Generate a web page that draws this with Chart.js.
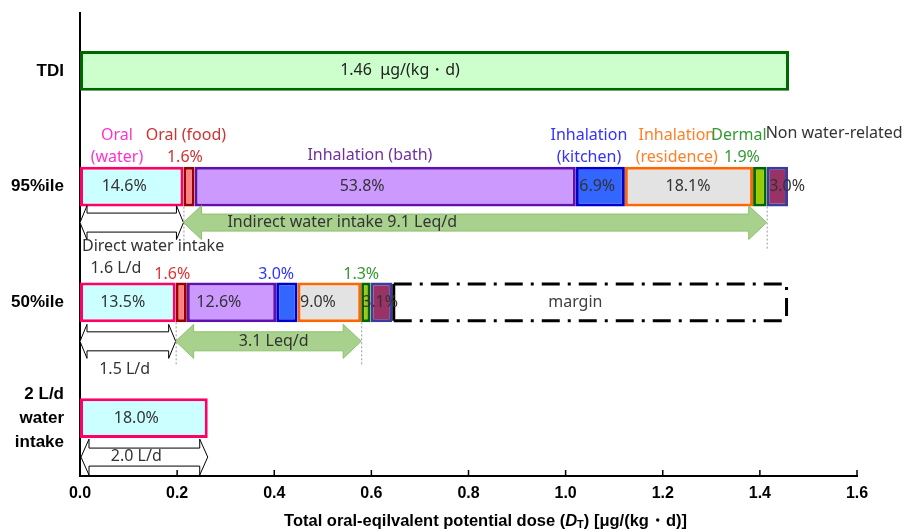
<!DOCTYPE html>
<html>
<head>
<meta charset="utf-8">
<script src="https://cdn.jsdelivr.net/npm/chart.js@4/dist/chart.umd.min.js"></script>
<style>
  html, body { margin: 0; padding: 0; background: #fff; }
  #wrap { width: 903px; height: 531px; }
</style>
</head>
<body>
<div id="wrap"><canvas id="dose-chart" width="903" height="531"></canvas></div>
<script>
// rows, top to bottom
const categories = ['TDI', '95%ile', '50%ile', ['2 L/d', 'water', 'intake']];

// potential dose, ug/(kg d)
const tdiDose      = [1.46, null, null, null];
const oralWater    = [null, 0.213, 0.197, 0.263];
const oralFood     = [null, 0.023, 0.023, null];
const inhBath      = [null, 0.785, 0.184, null];
const inhKitchen   = [null, 0.101, 0.044, null];
const inhResidence = [null, 0.264, 0.131, null];
const dermal       = [null, 0.028, 0.019, null];
const nonWater     = [null, 0.044, 0.045, null];
const marginDose   = [null, null, 0.815, null];

// share of TDI written on the bars
const pct95 = ['14.6%', '1.6%', '53.8%', '6.9%', '18.1%', '1.9%', '3.0%'];
const pct50 = ['13.5%', '1.6%', '12.6%', '3.0%', '9.0%', '1.3%', '3.1%'];
const pct2L = ['18.0%'];

const xTicks = [0, 0.2, 0.4, 0.6, 0.8, 1.0, 1.2, 1.4, 1.6];

const LABEL_FONT = '16px "Noto Sans"';

// where the text goes: [row, x in dose units, offset from bar centre, text, colour]
const notes = [
  [0, 0.659, 0, '1.46  μg/(kg・d)', '#222'],
  [1, 0.076, -51, 'Oral', '#FF33CC'],
  [1, 0.076, -29, '(water)', '#FF33CC'],
  [1, 0.218, -51, 'Oral (food)', '#CC3333'],
  [1, 0.216, -29, '1.6%', '#CC3333'],
  [1, 0.597, -31, 'Inhalation (bath)', '#7030A0'],
  [1, 1.048, -51, 'Inhalation', '#3333FF'],
  [1, 1.048, -29, '(kitchen)', '#3333FF'],
  [1, 1.229, -51, 'Inhalation', '#FF7F27'],
  [1, 1.229, -29, '(residence)', '#FF7F27'],
  [1, 1.357, -51, 'Dermal', '#339933'],
  [1, 1.363, -29, '1.9%', '#339933'],
  [1, 1.553, -53, 'Non water-related', '#333'],
  [1, 0.091, 0, pct95[0], '#333'],
  [1, 0.581, 0, pct95[2], '#333'],
  [1, 1.065, 0, pct95[3], '#333'],
  [1, 1.252, 0, pct95[4], '#333'],
  [1, 1.456, 0, pct95[6], '#333'],
  [1, 0.540, 36, 'Indirect water intake 9.1 Leq/d', '#333'],
  [2, 0.190, -28, pct50[1], '#E03030'],
  [2, 0.404, -28, pct50[3], '#3333FF'],
  [2, 0.579, -28, pct50[5], '#339933'],
  [2, 0.088, 0, pct50[0], '#333'],
  [2, 0.286, 0, pct50[2], '#333'],
  [2, 0.490, 0, pct50[4], '#333'],
  [2, 0.618, 0, pct50[6], '#333'],
  [2, 1.020, 0, 'margin', '#404040'],
  [2, 0.399, 39, '3.1 Leq/d', '#333'],
  [2, 0.092, 67, '1.5 L/d', '#333'],
  [3, 0.116, 0, pct2L[0], '#333'],
  [3, 0.116, 38, '2.0 L/d', '#333'],
];

function dblArrow(ctx, x1, x2, yc, shaft, head, len, fill, stroke) {
  ctx.beginPath();
  ctx.moveTo(x1, yc);
  ctx.lineTo(x1 + len, yc - head);
  ctx.lineTo(x1 + len, yc - shaft);
  ctx.lineTo(x2 - len, yc - shaft);
  ctx.lineTo(x2 - len, yc - head);
  ctx.lineTo(x2, yc);
  ctx.lineTo(x2 - len, yc + head);
  ctx.lineTo(x2 - len, yc + shaft);
  ctx.lineTo(x1 + len, yc + shaft);
  ctx.lineTo(x1 + len, yc + head);
  ctx.closePath();
  ctx.fillStyle = fill;
  ctx.fill();
  ctx.lineWidth = 1;
  ctx.strokeStyle = stroke;
  ctx.stroke();
}

function dotted(ctx, x, y1, y2) {
  ctx.save();
  ctx.setLineDash([2, 2]);
  ctx.strokeStyle = '#999';
  ctx.lineWidth = 1;
  ctx.beginPath();
  ctx.moveTo(x + 0.5, y1);
  ctx.lineTo(x + 0.5, y2);
  ctx.stroke();
  ctx.restore();
}

const sum = (arrs, i) => arrs.reduce((s, a) => s + (a[i] || 0), 0);

const annotations = {
  id: 'annotations',
  afterDatasetsDraw(chart) {
    const ctx = chart.ctx;
    const xs = chart.scales.x;
    const ys = chart.scales.y;
    const barH = chart.getDatasetMeta(1).data[1].height;
    const half = barH / 2;

    // dash-dot margin box
    const m = chart.getDatasetMeta(8).data[2];
    const l = m.base + 1.5, r = m.x - 1.5, t = m.y - half + 1.5, b = m.y + half - 1.5;
    ctx.save();
    ctx.strokeStyle = '#000';
    ctx.lineWidth = 3;
    ctx.beginPath();
    ctx.moveTo(l, t); ctx.lineTo(l, b);
    ctx.stroke();
    ctx.setLineDash([18, 8, 3, 8]);
    ctx.beginPath();
    ctx.moveTo(l, t); ctx.lineTo(r, t); ctx.lineTo(r, b);
    ctx.stroke();
    ctx.beginPath();
    ctx.moveTo(l, b); ctx.lineTo(r, b);
    ctx.stroke();
    ctx.restore();

    // 95%ile arrows
    const y95 = ys.getPixelForValue(1);
    const d95 = xs.getPixelForValue(oralWater[1]);
    const i95 = xs.getPixelForValue(sum([oralWater, oralFood, inhBath, inhKitchen, inhResidence, dermal], 1));
    dotted(ctx, d95, y95 + half, y95 + half + 44);
    dotted(ctx, i95, y95 + half, y95 + half + 42);
    dblArrow(ctx, xs.getPixelForValue(0), d95, y95 + half + 16, 9.5, 17, 7, '#fff', '#000');
    dblArrow(ctx, d95, i95, y95 + half + 16, 8.5, 17, 18, '#A9D18E', '#8CBF6C');

    // 50%ile arrows
    const y50 = ys.getPixelForValue(2);
    const d50 = xs.getPixelForValue(oralWater[2]);
    const i50 = xs.getPixelForValue(sum([oralWater, oralFood, inhBath, inhKitchen, inhResidence], 2));
    dotted(ctx, d50, y50 + half, y50 + half + 42);
    dotted(ctx, i50, y50 + half, y50 + half + 42);
    dblArrow(ctx, xs.getPixelForValue(0), d50, y50 + half + 19, 9.5, 17, 7, '#fff', '#000');
    dblArrow(ctx, d50, i50, y50 + half + 19, 9.5, 17, 18, '#A9D18E', '#8CBF6C');

    // 2 L/d arrow
    const y2 = ys.getPixelForValue(3);
    dblArrow(ctx, xs.getPixelForValue(0) + 1, xs.getPixelForValue(oralWater[3]), y2 + half + 19, 9, 18, 8, '#fff', '#000');

    // texts
    ctx.save();
    ctx.font = LABEL_FONT;
    ctx.textAlign = 'center';
    ctx.textBaseline = 'middle';
    notes.forEach(([row, x, dy, txt, col]) => {
      ctx.fillStyle = col;
      ctx.fillText(txt, xs.getPixelForValue(x), ys.getPixelForValue(row) + dy);
    });
    ctx.textAlign = 'left';
    ctx.fillStyle = '#333';
    ctx.fillText('Direct water intake', xs.getPixelForValue(0) + 2, y95 + 60);
    ctx.textAlign = 'center';
    ctx.fillText('1.6 L/d', xs.getPixelForValue(0.074), y95 + 82);
    ctx.restore();
  },
  afterDraw(chart) {
    const ctx = chart.ctx;
    const xs = chart.scales.x;
    const area = chart.chartArea;
    // inward tick marks
    ctx.save();
    ctx.strokeStyle = '#000';
    ctx.lineWidth = 1.5;
    xs.ticks.forEach(tk => {
      const px = xs.getPixelForValue(tk.value);
      if (px <= area.left + 1) return;
      ctx.beginPath();
      ctx.moveTo(px, area.bottom);
      ctx.lineTo(px, area.bottom - 6);
      ctx.stroke();
    });
    // axis title with italic D and subscript T
    const parts = [
      ['bold 16.5px "Liberation Sans"', 'Total oral-eqilvalent potential dose (', 0],
      ['italic bold 16.5px "Liberation Sans"', 'D', 0],
      ['bold 11px "Liberation Sans"', 'T', 4],
      ['bold 16.5px "Liberation Sans"', ') [μg/(kg・d)]', 0],
    ];
    let w = 0;
    parts.forEach(p => { ctx.font = p[0]; w += ctx.measureText(p[1]).width; });
    let x = (area.left + area.right) / 2 + 17 - w / 2;
    const y = 521;
    ctx.fillStyle = '#000';
    ctx.textBaseline = 'middle';
    ctx.textAlign = 'left';
    parts.forEach(p => {
      ctx.font = p[0];
      ctx.fillText(p[1], x, y + p[2]);
      x += ctx.measureText(p[1]).width;
    });
    ctx.restore();
  }
};

function seg(label, data, fill, border) {
  return {
    label, data,
    backgroundColor: fill,
    borderColor: border,
    borderWidth: 3,
    borderSkipped: false,
  };
}

function createDoseChart() {
  const ctx = document.getElementById('dose-chart').getContext('2d');
  new Chart(ctx, {
    type: 'bar',
    data: {
      labels: categories,
      datasets: [
        seg('TDI', tdiDose, '#CCFFCC', '#006600'),
        seg('Oral (water)', oralWater, '#CCFFFF', '#FF0066'),
        seg('Oral (food)', oralFood, '#FF8080', '#990000'),
        seg('Inhalation (bath)', inhBath, '#CC99FF', '#6010B0'),
        seg('Inhalation (kitchen)', inhKitchen, '#3366FF', '#0000CC'),
        seg('Inhalation (residence)', inhResidence, '#E3E3E3', '#FF6600'),
        seg('Dermal', dermal, '#99CC00', '#006600'),
        seg('Non water-related', nonWater, '#993366', '#3C3CA0'),
        { label: 'margin', data: marginDose, backgroundColor: 'rgba(255,255,255,0)', borderWidth: 0 },
      ],
    },
    options: {
      indexAxis: 'y',
      responsive: false,
      animation: false,
      events: [],
      datasets: { bar: { categoryPercentage: 1, barPercentage: 0.345 } },
      layout: { padding: { top: 13, right: 46, left: 0, bottom: 0 } },
      plugins: {
        legend: { display: false },
        tooltip: { enabled: false },
      },
      scales: {
        x: {
          stacked: true,
          min: 0,
          max: 1.6,
          z: 1,
          afterBuildTicks: s => { s.ticks = xTicks.map(v => ({ value: v })); },
          afterFit: s => { s.height = 55; s.paddingLeft = 0; s.paddingRight = 0; },
          grid: { display: false, drawTicks: false },
          border: { display: true, color: '#000', width: 2 },
          ticks: {
            padding: 8,
            color: '#000',
            font: { family: 'Liberation Sans', size: 16, weight: 'bold' },
            callback: v => Number(v).toFixed(1),
          },
        },
        y: {
          stacked: true,
          z: 1,
          afterFit: s => { s.width = 80; s.paddingTop = 0; s.paddingBottom = 0; },
          grid: { display: false, drawTicks: false },
          border: { display: true, color: '#000', width: 2 },
          ticks: {
            padding: 16,
            color: '#000',
            font: { family: 'Liberation Sans', size: 17, weight: 'bold', lineHeight: 1.4 },
          },
        },
      },
    },
    plugins: [annotations],
  });
}

document.addEventListener('DOMContentLoaded', () => {
  createDoseChart();
});
</script>
</body>
</html>
